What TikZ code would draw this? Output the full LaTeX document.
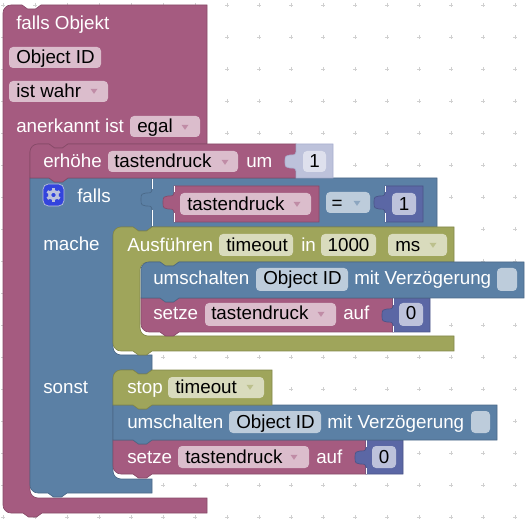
\documentclass[tikz,border=0pt]{standalone}
\usepackage{fontspec}
\setmainfont{Liberation Sans}
\definecolor{pur}{HTML}{A55B80}
\definecolor{purd}{HTML}{874A68}
\definecolor{purf}{HTML}{DBBDCC}
\definecolor{blu}{HTML}{5B80A5}
\definecolor{blud}{HTML}{4A6887}
\definecolor{bluf}{HTML}{BDCCDB}
\definecolor{oli}{HTML}{9FA55B}
\definecolor{olid}{HTML}{82874A}
\definecolor{olif}{HTML}{D9DBBD}
\definecolor{lav}{HTML}{5B67A5}
\definecolor{lavd}{HTML}{4A5487}
\definecolor{lavf}{HTML}{BDC2DB}
\definecolor{lavl}{HTML}{DEE0ED}
\definecolor{lavm}{HTML}{A9AFCF}
\definecolor{dotc}{HTML}{D0D0D0}
\definecolor{gearbg}{HTML}{3344DD}
\tikzset{
  txt/.style={anchor=base west,inner sep=0pt,font=\fontsize{14.1pt}{16pt}\selectfont,text=white},
  ftxt/.style={txt,text=black},
  ctxt/.style={ftxt,anchor=base},
  blkpur/.style={fill=pur,draw=purd,line width=.5pt},
  blkblu/.style={fill=blu,draw=blud,line width=.5pt},
  blkoli/.style={fill=oli,draw=olid,line width=.5pt},
  blklav/.style={fill=lav,draw=lavd,line width=.5pt},
  blkpale/.style={fill=lavf,draw=lavm,line width=.5pt},
  edgelight/.style={draw=white,line width=.6pt},
}
\def\nt{-- ++(5.5,4) -- ++(8,0) -- ++(5.5,-4)}
\def\ntl{-- ++(-5.5,4) -- ++(-8,0) -- ++(-5.5,-4)}
% rounded corner: start, corner, end
\newcommand\crn[6]{.. controls ({#1+.55*(#3-#1)},{#2+.55*(#4-#2)}) and ({#5+.55*(#3-#5)},{#6+.55*(#4-#6)}) .. (#5,#6)}
% puzzle tab on the left edge, drawn upwards: x of the edge, y of the top of the tab
\newcommand\tabu[2]{-- ({#1},{#2+19}) .. controls ({#1-1},{#2+12}) and ({#1-12},{#2+21}) .. ({#1-11},{#2+9.5}) .. controls ({#1-12},{#2-2}) and ({#1-1},{#2+7}) .. ({#1},{#2})}
\newcommand\fld[5]{\fill[#5,rounded corners=3pt] (#1,#2) rectangle (#3,#4);}
\newcommand\tri[3]{\fill[#3!70!white] ({#1-3.5},{#2-2.2}) -- ({#1+3.5},{#2-2.2}) -- (#1,{#2+2.8}) -- cycle;}
\begin{document}
\begin{tikzpicture}[x=.75pt,y=-.75pt]
\useasboundingbox (0,0) rectangle (531,523);
% workspace grid
\foreach \i in {0,...,16}{\foreach \j in {0,...,16}{
  \draw[dotc,line width=.6pt] ({3+32*\i-2},{5+32*\j}) -- ({3+32*\i+2},{5+32*\j}) ({3+32*\i},{5+32*\j-2}) -- ({3+32*\i},{5+32*\j+2});
}}
% outer block
\draw[blkpur] (3,13) \crn{3}{13}{3}{5}{11}{5} -- (22,5) \nt -- (207,5) -- (207,144) -- (68,144) \ntl -- (38,144) \crn{38}{144}{30}{144}{30}{152} -- (30,490) \crn{30}{490}{30}{498}{38}{498} -- (207,498) -- (207,513) -- (42,513) \ntl -- (11,513) \crn{11}{513}{3}{513}{3}{505} -- cycle;
% if block
\draw[blkblu] (30,178) -- (49,178) \nt -- (152,178) -- (152,227) \ntl -- (121,227) \crn{121}{227}{113}{227}{113}{235} -- (113,347) \crn{113}{347}{113}{355}{121}{355} -- (152,355) -- (152,370) \ntl -- (121,370) \crn{121}{370}{113}{370}{113}{378} -- (113,471) \crn{113}{471}{113}{479}{121}{479} -- (152,479) -- (152,493) -- (67,493) \ntl -- (38,493) \crn{38}{493}{30}{493}{30}{485} -- cycle;
% comparison block
\draw[blkblu] (152,178) -- (437,178) -- (437,227) -- (152,227) \tabu{152}{190} -- cycle;
\draw[edgelight] (152,179) -- (152,189) (152,210) -- (152,226);
\draw[blkpur] (174,186) -- (319,186) -- (319,222) -- (174,222) \tabu{174}{193} -- cycle;
\draw[edgelight] (174,186) -- (174,192) (174,213) -- (174,222);
\draw[blklav] (385,186) -- (423,186) -- (423,222) -- (385,222) \tabu{385}{193} -- cycle;
\draw[edgelight] (385,186) -- (385,192) (385,213) -- (385,222);
\fld{180}{193}{311}{215}{purf}\tri{297}{204}{pur}
\fld{326}{192}{370}{213}{bluf}\tri{357}{203}{blu}
\fld{392}{193}{416}{215}{lavf}
% increment block
\draw[blkpur] (30,152) \crn{30}{152}{30}{144}{38}{144} -- (49,144) \nt -- (296,144) -- (296,178) -- (68,178) \ntl -- (30,178) -- cycle;
\draw[blkpale] (296,144) -- (333,144) -- (333,178) -- (296,178) \tabu{296}{152} -- cycle;
\fld{108}{151}{238}{172}{purf}\tri{225}{162}{pur}
\fld{303}{151}{326}{172}{lavl}
% timeout block
\draw[blkoli] (113,235) \crn{113}{235}{113}{227}{121}{227} -- (133,227) \nt -- (454,227) -- (454,262) -- (179,262) \ntl -- (148,262) \crn{148}{262}{140}{262}{140}{270} -- (140,328) \crn{140}{328}{140}{336}{148}{336} -- (454,336) -- (454,351) -- (152,351) \ntl -- (121,351) \crn{121}{351}{113}{351}{113}{343} -- cycle;
\fld{219}{234}{293}{256}{olif}
\fld{321}{234}{376}{256}{olif}
\fld{388}{234}{447}{256}{olif}\tri{433}{245}{oli}
% set block inside
\draw[blkpur] (141,298) -- (160,298) \nt -- (393,298) -- (393,332) -- (179,332) \ntl -- (149,332) \crn{149}{332}{141}{332}{141}{324} -- cycle;
\draw[blklav] (393,298) -- (430,298) -- (430,332) -- (393,332) \tabu{393}{306} -- cycle;
\draw[edgelight] (393,298) -- (393,305) (393,326) -- (393,332);
\fld{205}{303}{336}{326}{purf}\tri{321}{314}{pur}
\fld{399}{303}{423}{326}{lavf}
% toggle block inside
\draw[blkblu] (141,270) \crn{141}{270}{141}{262}{149}{262} -- (160,262) \nt -- (524,262) -- (524,298) -- (179,298) \ntl -- (141,298) -- cycle;
\fld{256}{268}{348}{291}{bluf}
\fld{497}{268}{517}{291}{bluf}
% else branch
\draw[blkpur] (113,440) -- (133,440) \nt -- (366,440) -- (366,474) -- (152,474) \ntl -- (121,474) \crn{121}{474}{113}{474}{113}{466} -- cycle;
\draw[blklav] (366,440) -- (403,440) -- (403,474) -- (366,474) \tabu{366}{448} -- cycle;
\draw[edgelight] (366,440) -- (366,447) (366,468) -- (366,474);
\fld{178}{446}{309}{468}{purf}\tri{294}{457}{pur}
\fld{372}{446}{396}{468}{lavf}
\draw[blkblu] (113,405) -- (133,405) \nt -- (497,405) -- (497,440) -- (152,440) \ntl -- (113,440) -- cycle;
\fld{229}{411}{321}{433}{bluf}
\fld{471}{411}{490}{433}{bluf}
\draw[blkoli] (113,378) \crn{113}{378}{113}{370}{121}{370} -- (133,370) \nt -- (272,370) -- (272,405) -- (152,405) \ntl -- (113,405) -- cycle;
\fld{168}{377}{264}{398}{olif}\tri{250}{387}{oli}
% fields of the outer block
\fld{9}{47}{101}{68}{purf}
\fld{9}{81}{108}{102}{purf}\tri{94}{91}{pur}
\fld{130}{116}{200}{137}{purf}\tri{185}{127}{pur}
% gear button
\fill[gearbg,draw=lavf,line width=.5pt,rounded corners=4pt] (43,184) rectangle (64,206);
\draw[lavf,line width=2.2pt] (53.5,195) circle (3.8);
\foreach \a in {30,90,...,330}{\draw[lavf,line width=2.2pt] (53.5,195) ++(\a:4.5) -- ++(\a:2.6);}
% texts
\node[txt] (t1) at (16,30) {falls Objekt};
\node[ftxt] (t2) at (16,64) {Object ID};
\node[ftxt] (t3) at (16,98) {ist wahr};
\node[txt] (t4) at (16,133) {anerkannt ist};
\node[ftxt] (t5) at (137,133) {egal};
\node[txt] (t6) at (43,168) {erhöhe};
\node[ftxt] (t7) at (114,168) {tastendruck};
\node[txt] (t8) at (246,168) {um};
\node[ctxt] (t9) at (314.5,168) {1};
\node[txt] (t10) at (77,202.5) {falls};
\node[ftxt] (t11) at (187,211) {tastendruck};
\node[ctxt] (t12) at (337,210) {=};
\node[ctxt] (t13) at (404,211) {1};
\node[txt] (t14) at (43,250.5) {mache};
\node[txt] (t15) at (127,252) {Ausführen};
\node[ftxt] (t16) at (226,252) {timeout};
\node[txt] (t17) at (301,252) {in};
\node[ctxt] (t18) at (348.5,252) {1000};
\node[ftxt] (t19) at (395,252) {ms};
\node[txt] (t20) at (153,285) {umschalten};
\node[ftxt] (t21) at (263,285) {Object ID};
\node[txt] (t22) at (354,285) {mit Verzögerung};
\node[txt] (t23) at (153,320) {setze};
\node[ftxt] (t24) at (211,320) {tastendruck};
\node[txt] (t25) at (343,320) {auf};
\node[ctxt] (t26) at (411,320) {0};
\node[txt] (t27) at (43,393) {sonst};
\node[txt] (t28) at (127,393) {stop};
\node[ftxt] (t29) at (175,393) {timeout};
\node[txt] (t30) at (127,428) {umschalten};
\node[ftxt] (t31) at (236,428) {Object ID};
\node[txt] (t32) at (327,428) {mit Verzögerung};
\node[txt] (t33) at (127,463) {setze};
\node[ftxt] (t34) at (185,463) {tastendruck};
\node[txt] (t35) at (316,463) {auf};
\node[ctxt] (t36) at (384,463) {0};
\end{tikzpicture}
\end{document}
